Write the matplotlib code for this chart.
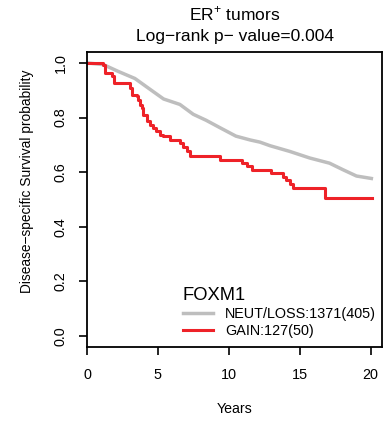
import matplotlib
matplotlib.use("Agg")
import matplotlib.pyplot as plt

plt.rcParams['font.family'] = ['Liberation Sans', 'DejaVu Sans']
plt.rcParams['mathtext.fontset'] = 'custom'
plt.rcParams['mathtext.rm'] = 'Liberation Sans'

# Data
grey_t = [0, 1.15, 2.2, 3.38, 4.4, 5.4, 6.55, 7.49, 8.4, 9.37, 10.5, 11.5, 12.2, 12.9,
          14.3, 15.7, 17.1, 18.05, 19.0, 20.05]
grey_s = [1.0, 0.994, 0.969, 0.943, 0.905, 0.868, 0.848, 0.812, 0.790, 0.763, 0.732, 0.718,
          0.710, 0.697, 0.676, 0.652, 0.633, 0.609, 0.586, 0.577]
red_t = [0, 1.13, 1.27, 1.74, 1.88, 3.03, 3.15, 3.5, 3.62, 3.73, 3.85, 3.97, 4.2, 4.44, 4.67,
         4.9, 5.14, 5.37, 5.85, 6.55, 6.78, 7.02, 7.25, 9.37, 10.9, 11.25, 11.6, 13.0, 13.8,
         14.06, 14.3, 14.5, 16.76, 20.1]
red_s = [1.0, 0.992, 0.963, 0.951, 0.927, 0.908, 0.884, 0.878, 0.865, 0.847, 0.835, 0.81,
         0.786, 0.774, 0.762, 0.749, 0.737, 0.731, 0.719, 0.707, 0.694, 0.676, 0.658, 0.643,
         0.633, 0.621, 0.609, 0.597, 0.584, 0.572, 0.557, 0.542, 0.507, 0.507]
labels = ["NEUT/LOSS:1371(405)", "GAIN:127(50)"]
x_ticks = [0, 5, 10, 15, 20]
y_ticks = [0.0, 0.2, 0.4, 0.6, 0.8, 1.0]
y_ticklabels = ["0.0", "0.2", "0.4", "0.6", "0.8", "1.0"]

W, H = 385, 421
fig = plt.figure(figsize=(W / 100, H / 100), dpi=100)
L, R, T, B = 87, 382, 52, 347
ax = fig.add_axes([L / W, 1 - B / H, (R - L) / W, (B - T) / H])

grey_col = '#BEBEBE'
red_col = '#EE2228'
ax.plot(grey_t, grey_s, color=grey_col, lw=2.5, solid_joinstyle='round', label=labels[0])
ax.step(red_t, red_s, where='post', color=red_col, lw=2.2, label=labels[1])

ax.set_xlim(0, 20.8)
ax.set_ylim(-0.04, 1.04)
ax.set_xticks(x_ticks)
ax.set_xticklabels([str(v) for v in x_ticks])
ax.set_yticks(y_ticks)
ax.set_yticklabels(y_ticklabels, rotation=90, va='center')
for s in ax.spines.values():
    s.set_linewidth(1.3)
ax.tick_params(axis='both', direction='out', length=6, width=1.2, labelsize=10.4)
ax.tick_params(axis='x', pad=9)
ax.tick_params(axis='y', pad=8)

fig.text((L + R) / 2 / W, 1 - 14 / H, 'ER$^{+}$ tumors', ha='center', va='center', fontsize=12.5)
fig.text((L + R) / 2 / W, 1 - 37 / H, 'Log\u2212rank p\u2212 value=0.004', ha='center', va='center', fontsize=12.5)
fig.text((L + R) / 2 / W, 1 - 409 / H, 'Years', ha='center', va='center', fontsize=10.2)
fig.text(27 / W, 1 - 181 / H, 'Disease\u2212specific Survival probability', ha='center', va='center',
         rotation=90, fontsize=9.9)

leg = ax.legend(loc='upper left', bbox_to_anchor=(183 / W, 1 - 287 / H), bbox_transform=fig.transFigure,
                frameon=False, fontsize=10.4, title='FOXM1', title_fontsize=13.2, alignment='left',
                handlelength=2.1, handletextpad=0.8, labelspacing=0.22, borderpad=0, borderaxespad=0)

fig.savefig('out.png', dpi=100)
